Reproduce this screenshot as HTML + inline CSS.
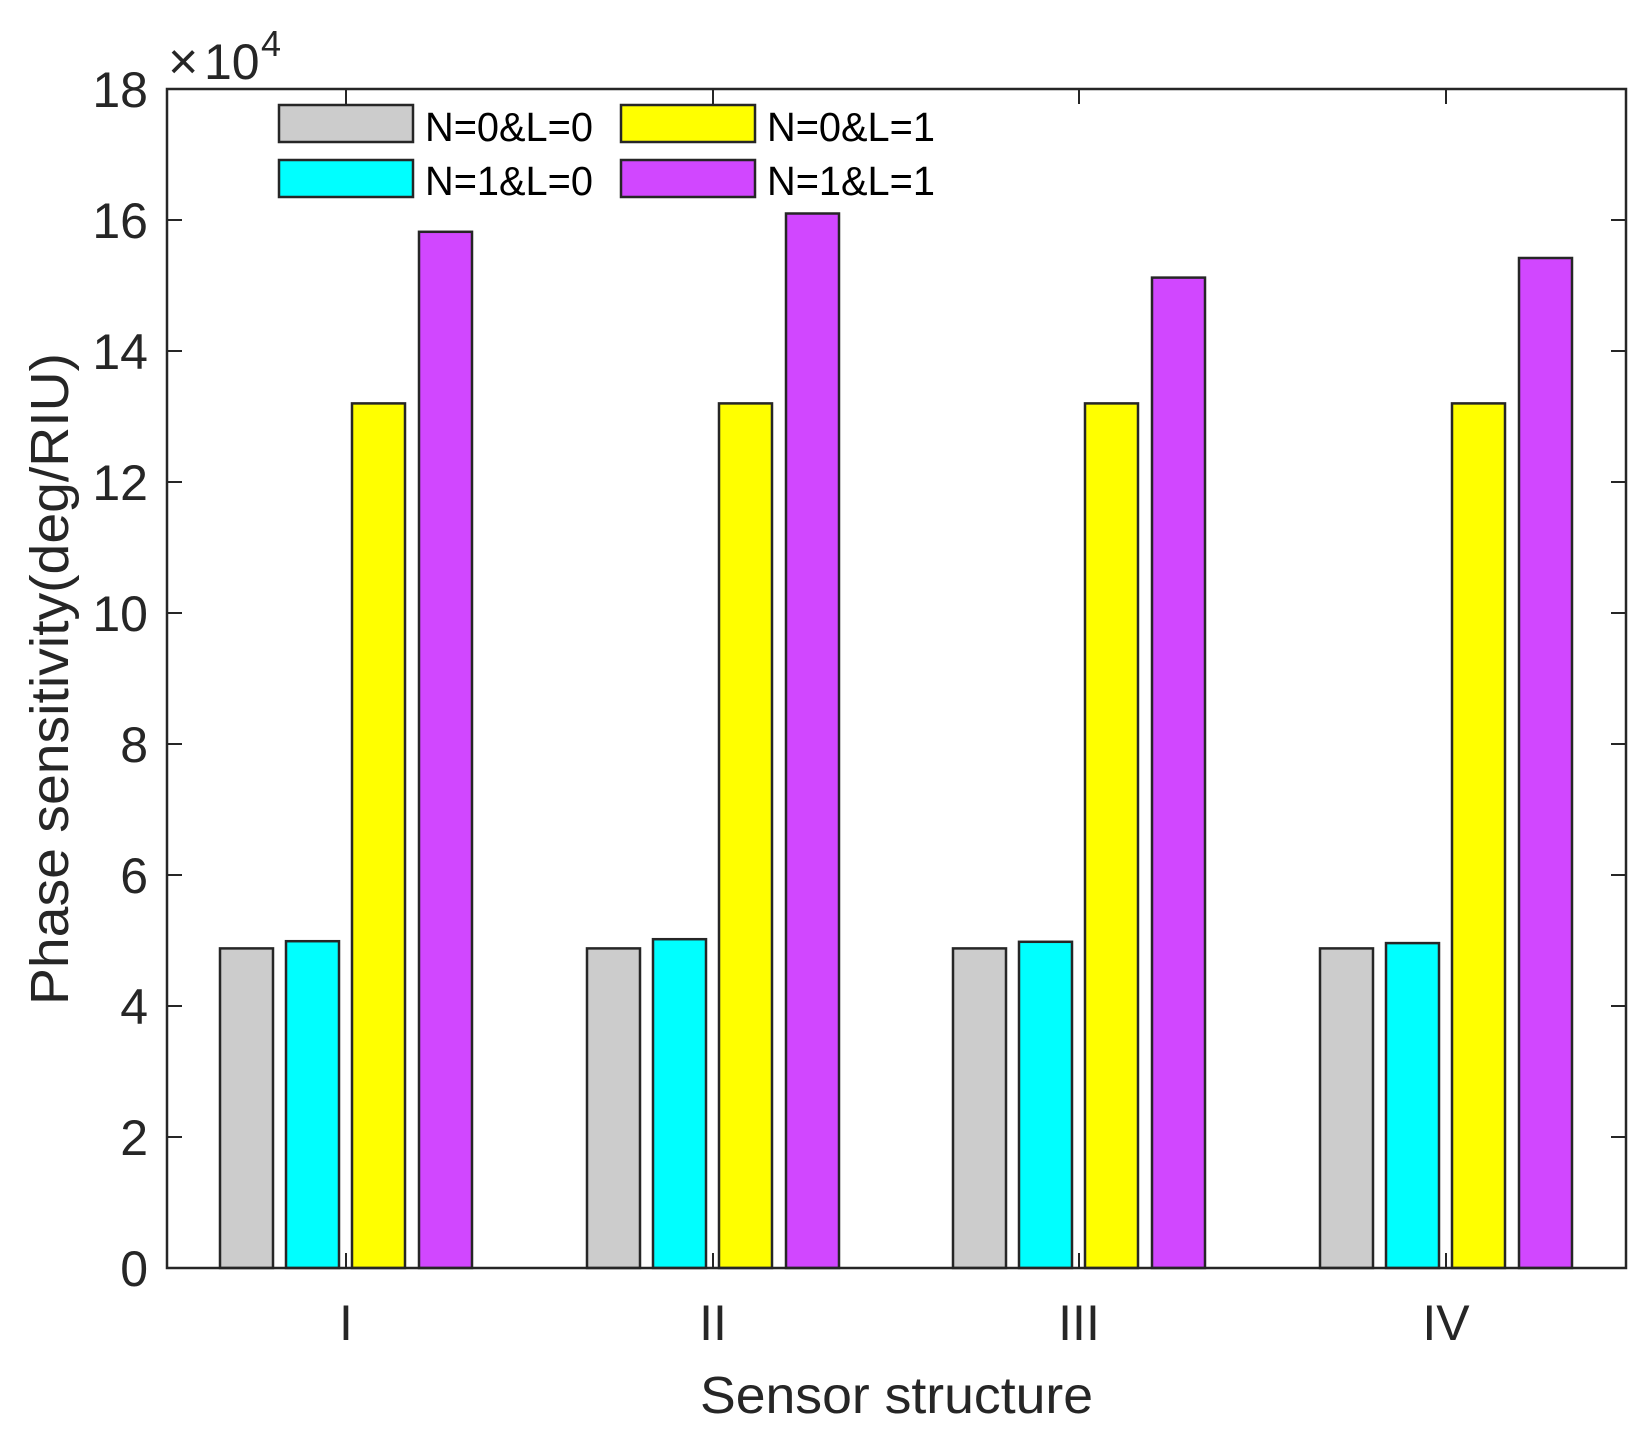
<!DOCTYPE html>
<html><head><meta charset="utf-8"><style>
html,body{margin:0;padding:0;background:#fff;}
svg{display:block;font-family:"Liberation Sans",Arial,sans-serif;}
</style></head><body>
<svg width="1651" height="1437" viewBox="0 0 1651 1437" xmlns="http://www.w3.org/2000/svg">
<rect width="1651" height="1437" fill="#fff"/>
<g stroke="#262626" stroke-width="2.5">
<rect x="220" y="948.4" width="53" height="319.6" fill="#cccccc"/>
<rect x="286" y="941.2" width="53" height="326.8" fill="#00ffff"/>
<rect x="352" y="403.4" width="53" height="864.6" fill="#ffff00"/>
<rect x="419" y="231.8" width="53" height="1036.2" fill="#d147ff"/>
<rect x="587" y="948.4" width="53" height="319.6" fill="#cccccc"/>
<rect x="653" y="939.2" width="53" height="328.8" fill="#00ffff"/>
<rect x="719" y="403.4" width="53" height="864.6" fill="#ffff00"/>
<rect x="786" y="213.5" width="53" height="1054.5" fill="#d147ff"/>
<rect x="953" y="948.4" width="53" height="319.6" fill="#cccccc"/>
<rect x="1019" y="941.8" width="53" height="326.2" fill="#00ffff"/>
<rect x="1085" y="403.4" width="53" height="864.6" fill="#ffff00"/>
<rect x="1152" y="277.6" width="53" height="990.4" fill="#d147ff"/>
<rect x="1320" y="948.4" width="53" height="319.6" fill="#cccccc"/>
<rect x="1386" y="943.1" width="53" height="324.9" fill="#00ffff"/>
<rect x="1452" y="403.4" width="53" height="864.6" fill="#ffff00"/>
<rect x="1519" y="258" width="53" height="1010" fill="#d147ff"/>
</g>
<rect x="167" y="89" width="1459" height="1179" fill="none" stroke="#262626" stroke-width="2.5"/>
<g stroke="#262626" stroke-width="2">
<line x1="167" y1="1137" x2="182" y2="1137"/><line x1="1626" y1="1137" x2="1611" y2="1137"/>
<line x1="167" y1="1006" x2="182" y2="1006"/><line x1="1626" y1="1006" x2="1611" y2="1006"/>
<line x1="167" y1="875" x2="182" y2="875"/><line x1="1626" y1="875" x2="1611" y2="875"/>
<line x1="167" y1="744" x2="182" y2="744"/><line x1="1626" y1="744" x2="1611" y2="744"/>
<line x1="167" y1="613" x2="182" y2="613"/><line x1="1626" y1="613" x2="1611" y2="613"/>
<line x1="167" y1="482" x2="182" y2="482"/><line x1="1626" y1="482" x2="1611" y2="482"/>
<line x1="167" y1="351" x2="182" y2="351"/><line x1="1626" y1="351" x2="1611" y2="351"/>
<line x1="167" y1="220" x2="182" y2="220"/><line x1="1626" y1="220" x2="1611" y2="220"/>
<line x1="346" y1="89" x2="346" y2="104"/><line x1="713" y1="89" x2="713" y2="104"/>
<line x1="1079" y1="89" x2="1079" y2="104"/><line x1="1446" y1="89" x2="1446" y2="104"/>
<line x1="346" y1="1268" x2="346" y2="1253"/><line x1="713" y1="1268" x2="713" y2="1253"/>
<line x1="1079" y1="1268" x2="1079" y2="1253"/><line x1="1446" y1="1268" x2="1446" y2="1253"/>
</g>
<g font-size="50" fill="#262626" text-anchor="end">
<text x="148" y="1286">0</text>
<text x="148" y="1155">2</text>
<text x="148" y="1024">4</text>
<text x="148" y="893">6</text>
<text x="148" y="762">8</text>
<text x="148" y="631">10</text>
<text x="148" y="500">12</text>
<text x="148" y="369">14</text>
<text x="148" y="238">16</text>
<text x="148" y="107">18</text>
</g>
<text x="168" y="79" font-size="52" fill="#262626">×</text>
<text x="204" y="79" font-size="50" fill="#262626">10</text>
<text x="261" y="56" font-size="36" fill="#262626">4</text>
<g font-size="50" fill="#262626" text-anchor="middle">
<text x="346" y="1340">I</text>
<text x="713" y="1340">II</text>
<text x="1079" y="1340">III</text>
<text x="1446" y="1340">IV</text>
</g>
<text x="700" y="1413" font-size="52" fill="#262626" textLength="393" lengthAdjust="spacingAndGlyphs">Sensor structure</text>
<text transform="translate(68,679) rotate(-90)" font-size="54" fill="#262626" text-anchor="middle" textLength="652" lengthAdjust="spacingAndGlyphs">Phase sensitivity(deg/RIU)</text>
<g stroke="#262626" stroke-width="2.5">
<rect x="279" y="105" width="134" height="37" fill="#cccccc"/>
<rect x="279" y="160" width="134" height="37" fill="#00ffff"/>
<rect x="621" y="105" width="134" height="37" fill="#ffff00"/>
<rect x="621" y="160" width="134" height="37" fill="#d147ff"/>
</g>
<g font-size="41" fill="#000">
<text x="425" y="141" textLength="168" lengthAdjust="spacingAndGlyphs">N=0&amp;L=0</text>
<text x="425" y="195" textLength="168" lengthAdjust="spacingAndGlyphs">N=1&amp;L=0</text>
<text x="767" y="141" textLength="168" lengthAdjust="spacingAndGlyphs">N=0&amp;L=1</text>
<text x="767" y="195" textLength="168" lengthAdjust="spacingAndGlyphs">N=1&amp;L=1</text>
</g>
</svg>
</body></html>
